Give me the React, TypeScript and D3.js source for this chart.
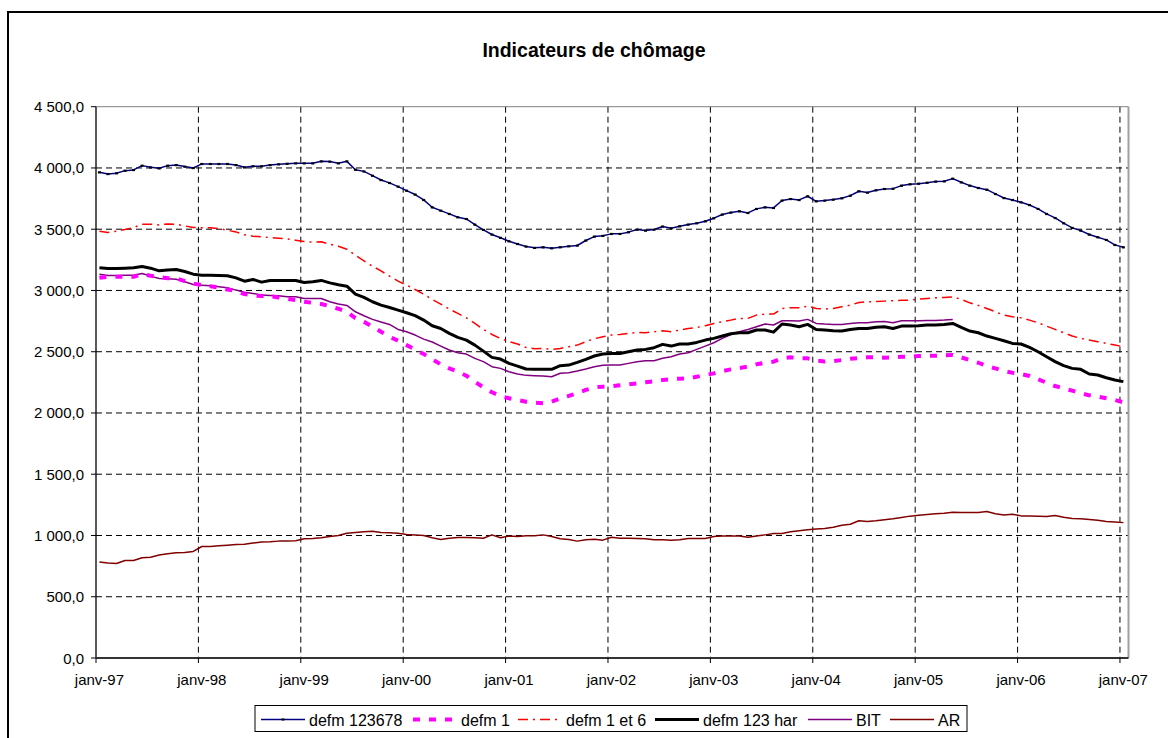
import React from "react";
import * as d3 from "d3";

const yearLabels = ["janv-97", "janv-98", "janv-99", "janv-00", "janv-01", "janv-02", "janv-03", "janv-04", "janv-05", "janv-06", "janv-07"];
const yTicks = [0, 500, 1000, 1500, 2000, 2500, 3000, 3500, 4000, 4500];

// Monthly values, janv-97 .. janv-07 (thousands)
const defm123678 = [
  3965, 3951, 3957, 3978, 3984, 4019, 4005, 3997, 4019, 4024, 4011, 4000,
  4033, 4033, 4033, 4033, 4024, 4005, 4014, 4014, 4024, 4030, 4035, 4038,
  4038, 4038, 4054, 4052, 4038, 4054, 3986, 3972, 3937, 3902, 3878, 3848,
  3815, 3783, 3739, 3679, 3652, 3625, 3598, 3584, 3538, 3495, 3457, 3430,
  3402, 3380, 3359, 3348, 3353, 3345, 3353, 3361, 3367, 3408, 3440, 3446,
  3462, 3462, 3476, 3497, 3489, 3497, 3522, 3508, 3524, 3538, 3549, 3565,
  3590, 3620, 3636, 3647, 3633, 3666, 3679, 3674, 3734, 3747, 3739, 3769,
  3728, 3734, 3742, 3753, 3774, 3810, 3799, 3818, 3829, 3831, 3856, 3867,
  3872, 3880, 3889, 3891, 3913, 3883, 3856, 3837, 3823, 3788, 3755, 3739,
  3720, 3698, 3666, 3625, 3592, 3549, 3511, 3489, 3457, 3435, 3413, 3372,
  3353,
];
const defm1 = [
  3103, 3111, 3111, 3111, 3111, 3133, 3120, 3109, 3100, 3098, 3076, 3057,
  3043, 3035, 3024, 3008, 2995, 2970, 2959, 2954, 2954, 2943, 2932, 2921,
  2908, 2899, 2889, 2872, 2851, 2826, 2775, 2745, 2704, 2663, 2622, 2590,
  2554, 2519, 2481, 2438, 2397, 2364, 2337, 2304, 2256, 2209, 2169, 2139,
  2120, 2106, 2092, 2084, 2079, 2092, 2120, 2139, 2161, 2188, 2209, 2215,
  2218, 2226, 2234, 2242, 2250, 2258, 2269, 2275, 2280, 2283, 2296, 2310,
  2323, 2342, 2356, 2367, 2378, 2397, 2410, 2419, 2446, 2454, 2448, 2446,
  2427, 2421, 2424, 2432, 2443, 2448, 2454, 2454, 2451, 2454, 2459, 2459,
  2465, 2467, 2467, 2470, 2473, 2454, 2432, 2410, 2383, 2364, 2342, 2329,
  2318, 2302, 2275, 2247, 2220, 2199, 2182, 2161, 2144, 2133, 2120, 2106,
  2087,
];
const defm1et6 = [
  3484, 3473, 3484, 3497, 3514, 3541, 3541, 3535, 3543, 3541, 3527, 3514,
  3511, 3511, 3505, 3492, 3478, 3454, 3443, 3437, 3432, 3427, 3421, 3410,
  3399, 3394, 3397, 3378, 3361, 3337, 3288, 3242, 3198, 3160, 3117, 3076,
  3044, 3008, 2970, 2927, 2889, 2848, 2813, 2777, 2731, 2682, 2641, 2609,
  2582, 2563, 2535, 2525, 2527, 2519, 2527, 2541, 2554, 2582, 2606, 2622,
  2636, 2641, 2650, 2658, 2655, 2663, 2671, 2663, 2677, 2690, 2698, 2712,
  2731, 2745, 2758, 2772, 2772, 2799, 2807, 2807, 2853, 2859, 2859, 2872,
  2853, 2848, 2853, 2867, 2880, 2902, 2908, 2910, 2913, 2916, 2921, 2921,
  2929, 2935, 2940, 2943, 2948, 2927, 2899, 2878, 2853, 2826, 2799, 2785,
  2777, 2758, 2736, 2709, 2682, 2655, 2628, 2609, 2595, 2582, 2568, 2554,
  2541,
];
const defm123har = [
  3185, 3179, 3179, 3182, 3185, 3196, 3182, 3160, 3168, 3171, 3155, 3133,
  3125, 3125, 3122, 3120, 3103, 3076, 3090, 3068, 3082, 3082, 3082, 3082,
  3065, 3071, 3082, 3062, 3046, 3035, 2970, 2943, 2908, 2880, 2861, 2840,
  2818, 2794, 2758, 2712, 2690, 2650, 2617, 2595, 2554, 2505, 2454, 2440,
  2405, 2383, 2359, 2356, 2356, 2356, 2386, 2391, 2413, 2438, 2465, 2481,
  2486, 2486, 2500, 2514, 2519, 2533, 2560, 2546, 2563, 2563, 2576, 2595,
  2609, 2628, 2647, 2655, 2655, 2677, 2677, 2660, 2726, 2718, 2704, 2723,
  2682, 2677, 2671, 2669, 2682, 2690, 2690, 2700, 2704, 2690, 2709, 2709,
  2712, 2718, 2718, 2723, 2731, 2698, 2669, 2655, 2628, 2609, 2590, 2568,
  2563, 2535, 2500, 2459, 2419, 2386, 2364, 2356, 2318, 2310, 2288, 2269,
  2256,
];
const bit = [
  3133, 3122, 3122, 3125, 3125, 3139, 3117, 3098, 3095, 3092, 3071, 3049,
  3043, 3038, 3030, 3022, 3003, 2986, 2976, 2962, 2959, 2957, 2948, 2948,
  2935, 2935, 2935, 2908, 2889, 2878, 2826, 2794, 2764, 2742, 2723, 2682,
  2663, 2636, 2603, 2579, 2546, 2514, 2492, 2481, 2446, 2419, 2378, 2364,
  2337, 2318, 2307, 2304, 2302, 2296, 2324, 2329, 2342, 2359, 2378, 2389,
  2391, 2391, 2405, 2419, 2427, 2427, 2446, 2459, 2481, 2492, 2519, 2546,
  2573, 2609, 2641, 2663, 2682, 2704, 2726, 2718, 2753, 2753, 2750, 2764,
  2731, 2726, 2723, 2723, 2731, 2736, 2736, 2744, 2747, 2736, 2753, 2753,
  2753, 2755, 2755, 2758, 2764,
];
const ar = [
  783, 775, 772, 796, 796, 818, 823, 840, 851, 859, 861, 870,
  910, 910, 916, 921, 927, 929, 938, 946, 948, 954, 954, 957,
  973, 976, 981, 992, 1000, 1019, 1024, 1030, 1035, 1024, 1022, 1019,
  1008, 1005, 1000, 981, 967, 978, 984, 984, 981, 978, 1005, 981,
  995, 992, 997, 997, 1005, 992, 973, 967, 954, 965, 970, 962,
  986, 978, 978, 976, 973, 965, 965, 962, 965, 976, 976, 976,
  992, 995, 995, 995, 986, 995, 1005, 1016, 1016, 1030, 1038, 1046,
  1052, 1057, 1068, 1084, 1092, 1120, 1114, 1120, 1128, 1136, 1147, 1158,
  1166, 1171, 1177, 1182, 1190, 1188, 1188, 1188, 1196, 1177, 1168, 1174,
  1160, 1160, 1158, 1155, 1163, 1149, 1139, 1136, 1130, 1125, 1115, 1110,
  1105,
];

const FONT = "Arial, 'Liberation Sans', sans-serif";

const seriesDefs = [
  { name: "defm 123678", values: defm123678, color: "#000080", width: 1.5, dash: "", markers: true },
  { name: "defm 1", values: defm1, color: "#FF00FF", width: 4, dash: "7,9", markers: false },
  { name: "defm 1 et 6", values: defm1et6, color: "#FF0000", width: 1.5, dash: "10,5,2,5", markers: false },
  { name: "defm 123 har", values: defm123har, color: "#000000", width: 3, dash: "", markers: false },
  { name: "BIT", values: bit, color: "#800080", width: 1.5, dash: "", markers: false },
  { name: "AR", values: ar, color: "#800000", width: 1.5, dash: "", markers: false },
];

const legendX = [261, 413, 518, 655, 808, 890];

export default function App() {
  const left = 96, right = 1128.5, top = 106.7, bottom = 658;
  const x = d3.scaleLinear().domain([0, 121]).range([left, right]);
  const y = d3.scaleLinear().domain([0, 4500]).range([bottom, top]);
  const off = 0.4;
  const fmt = (v: number) => {
    const s = v.toFixed(1).replace(".", ",");
    const [ip, dp] = s.split(",");
    return ip.replace(/\B(?=(\d{3})+(?!\d))/g, " ") + "," + dp;
  };
  const line = d3.line<number>().x((_, i) => x(i + off)).y((d) => y(d));
  const gridXs = yearLabels.map((_, k) => x(12 * k));

  return (
    <svg width={1168} height={738} style={{ position: "absolute", left: 0, top: 0, background: "#fff" }}>
      <rect x={8} y={12} width={1200} height={760} fill="#fff" stroke="#000" strokeWidth={2} />
      <text x={594} y={57} textAnchor="middle" fontFamily={FONT} fontWeight="bold" fontSize={19.5}>
        Indicateurs de chômage
      </text>
      {yTicks.filter((t) => t > 0 && t < 4500).map((t) => (
        <line key={"h" + t} x1={left} x2={right} y1={y(t)} y2={y(t)} stroke="#000" strokeWidth={1} strokeDasharray="6,4" />
      ))}
      {gridXs.slice(1).map((gx, k) => (
        <line key={"v" + k} x1={gx} x2={gx} y1={top} y2={bottom} stroke="#000" strokeWidth={1} strokeDasharray="6,4" />
      ))}
      <line x1={left} x2={right} y1={top} y2={top} stroke="#808080" strokeWidth={1} />
      <line x1={right} x2={right} y1={top} y2={bottom} stroke="#a0a0a0" strokeWidth={2} />
      <line x1={left} x2={left} y1={top} y2={bottom} stroke="#000" strokeWidth={1.3} />
      <line x1={left} x2={right} y1={bottom} y2={bottom} stroke="#333" strokeWidth={2} />
      {yTicks.map((t) => (
        <g key={"yt" + t}>
          <line x1={left - 5} x2={left} y1={y(t)} y2={y(t)} stroke="#000" />
          <text x={84} y={y(t) + 5.5} textAnchor="end" fontFamily={FONT} fontSize={15}>{fmt(t)}</text>
        </g>
      ))}
      {gridXs.map((gx, k) => (
        <g key={"xt" + k}>
          <line x1={gx} x2={gx} y1={bottom} y2={bottom + 5} stroke="#000" />
          <text x={x(12 * k + off)} y={685} textAnchor="middle" fontFamily={FONT} fontSize={15}>{yearLabels[k]}</text>
        </g>
      ))}
      {seriesDefs.slice().reverse().map((s) => (
        <path key={s.name} d={line(s.values) || ""} fill="none" stroke={s.color} strokeWidth={s.width}
          strokeDasharray={s.dash || undefined} strokeLinejoin="round" />
      ))}
      {seriesDefs[0].values.map((v, i) => (
        <rect key={"m" + i} x={x(i + off) - 1.5} y={y(v) - 1} width={3} height={2.2} fill="#000" />
      ))}
      <rect x={255} y={705.5} width={712} height={26} fill="#fff" stroke="#000" strokeWidth={1} />
      {seriesDefs.map((s, i) => (
        <g key={"lg" + s.name}>
          <line x1={legendX[i]} x2={legendX[i] + 44} y1={719.5} y2={719.5} stroke={s.color} strokeWidth={s.width}
            strokeDasharray={s.dash || undefined} />
          {s.markers && <rect x={legendX[i] + 20.5} y={718.5} width={3} height={2} fill="#000" />}
          <text x={legendX[i] + 48} y={725.5} fontFamily={FONT} fontSize={16}>{s.name}</text>
        </g>
      ))}
    </svg>
  );
}
